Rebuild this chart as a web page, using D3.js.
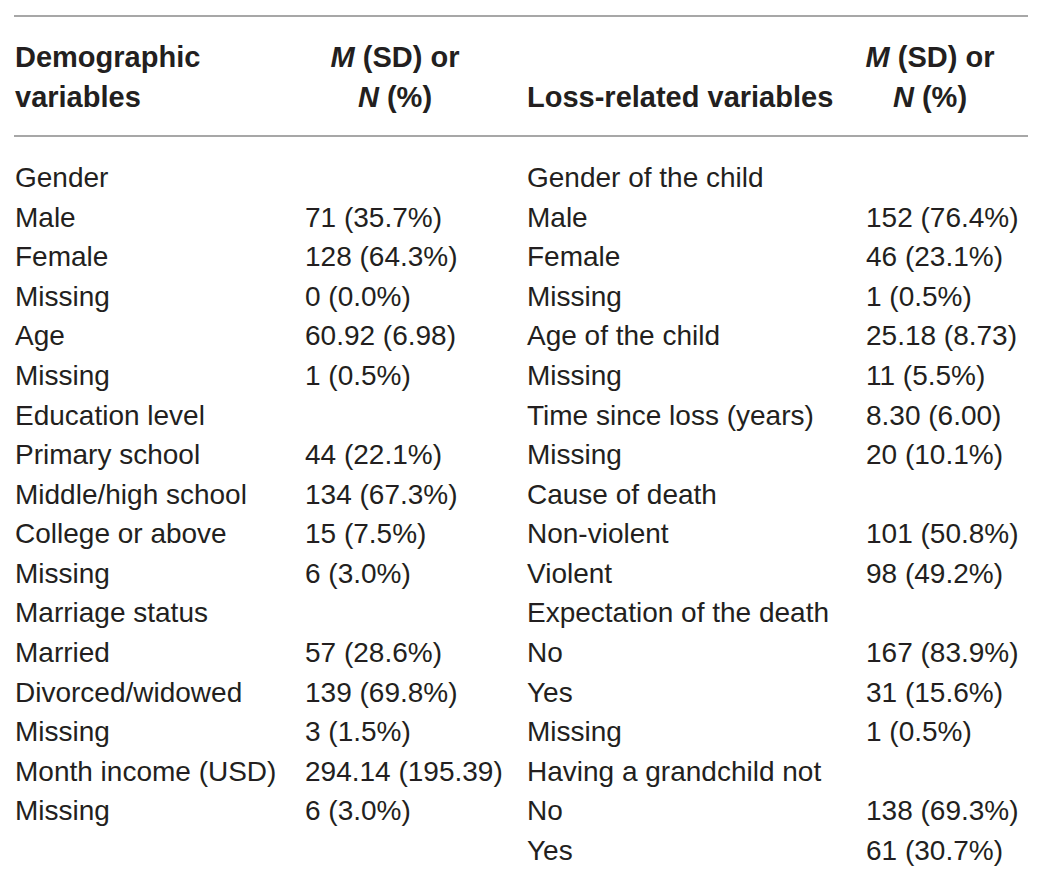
<!DOCTYPE html>
<html>
<head>
<meta charset="utf-8">
<script src="https://cdn.jsdelivr.net/npm/d3@7"></script>
<style>
  body { margin: 0; background: #fff; }
  svg text { font-family: "Liberation Sans", Arial, sans-serif; fill: #231f20; }
</style>
</head>
<body>
<svg id="table" width="1043" height="887"></svg>
<script>
const demoLabels = ['Gender', 'Male', 'Female', 'Missing', 'Age', 'Missing', 'Education level',
  'Primary school', 'Middle/high school', 'College or above', 'Missing', 'Marriage status',
  'Married', 'Divorced/widowed', 'Missing', 'Month income (USD)', 'Missing', ''];
const demoValues = ['', '71 (35.7%)', '128 (64.3%)', '0 (0.0%)', '60.92 (6.98)', '1 (0.5%)', '',
  '44 (22.1%)', '134 (67.3%)', '15 (7.5%)', '6 (3.0%)', '',
  '57 (28.6%)', '139 (69.8%)', '3 (1.5%)', '294.14 (195.39)', '6 (3.0%)', ''];
const lossLabels = ['Gender of the child', 'Male', 'Female', 'Missing', 'Age of the child', 'Missing',
  'Time since loss (years)', 'Missing', 'Cause of death', 'Non-violent', 'Violent',
  'Expectation of the death', 'No', 'Yes', 'Missing', 'Having a grandchild not', 'No', 'Yes'];
const lossValues = ['', '152 (76.4%)', '46 (23.1%)', '1 (0.5%)', '25.18 (8.73)', '11 (5.5%)',
  '8.30 (6.00)', '20 (10.1%)', '', '101 (50.8%)', '98 (49.2%)',
  '', '167 (83.9%)', '31 (15.6%)', '1 (0.5%)', '', '138 (69.3%)', '61 (30.7%)'];

const svg = d3.select('svg#table');
const fontSize = 28;

const colX = d3.scaleOrdinal()
  .domain(['demoLabel', 'demoValue', 'lossLabel', 'lossValue'])
  .range([15, 305, 527, 866]);

const rowY = d3.scalePoint()
  .domain(d3.range(demoLabels.length))
  .range([177, 850]);

// rules
[16, 136].forEach((y) => {
  svg.append('line')
    .attr('x1', 14).attr('x2', 1028)
    .attr('y1', y).attr('y2', y)
    .attr('stroke', '#8a8a8a')
    .attr('stroke-width', 1.6);
});

// header
const header = svg.append('g').attr('font-weight', 'bold').attr('font-size', 29);
header.append('text').attr('x', 15).attr('y', 67).text('Demographic');
header.append('text').attr('x', 15).attr('y', 107).text('variables');
header.append('text').attr('x', 527).attr('y', 107).text('Loss-related variables');

function msdHeader(cx) {
  const t1 = header.append('text').attr('x', cx).attr('y', 67).attr('text-anchor', 'middle');
  t1.append('tspan').attr('font-style', 'italic').text('M');
  t1.append('tspan').text(' (SD) or');
  const t2 = header.append('text').attr('x', cx).attr('y', 107).attr('text-anchor', 'middle');
  t2.append('tspan').attr('font-style', 'italic').text('N');
  t2.append('tspan').text(' (%)');
}
msdHeader(395);
msdHeader(930);

// body
const columns = [
  ['demoLabel', demoLabels],
  ['demoValue', demoValues],
  ['lossLabel', lossLabels],
  ['lossValue', lossValues],
];

columns.forEach(([key, values]) => {
  svg.append('g')
    .attr('class', key)
    .selectAll('text')
    .data(values)
    .enter()
    .append('text')
    .attr('x', colX(key))
    .attr('y', (d, i) => rowY(i) + 10)
    .attr('font-size', fontSize)
    .text((d) => d);
});
</script>
</body>
</html>
